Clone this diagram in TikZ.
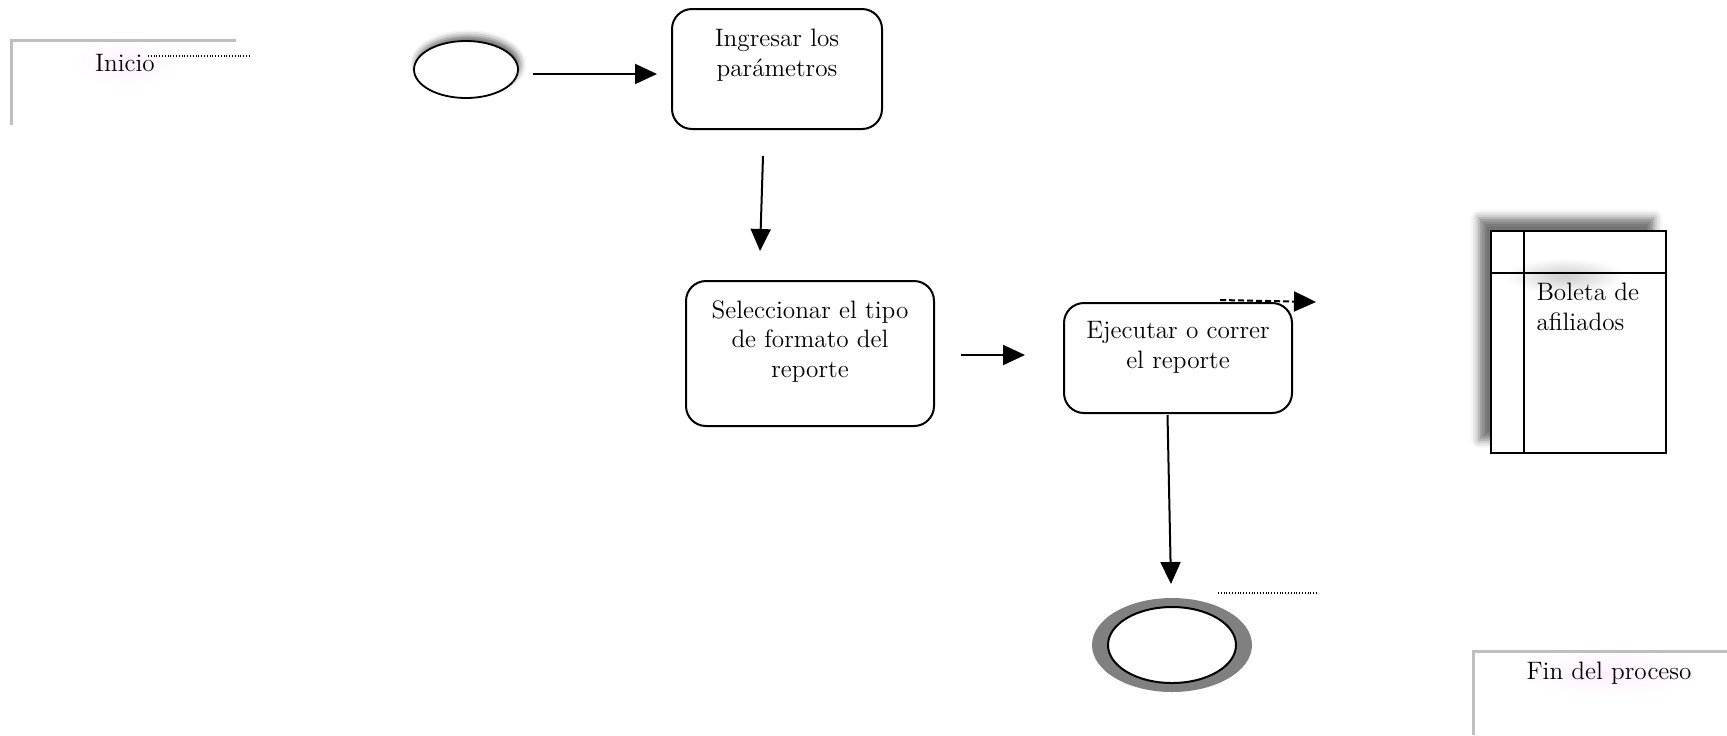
\documentclass[tikz,border=0pt]{standalone}
\usetikzlibrary{arrows.meta,shapes.geometric,shadows.blur,calc}
\begin{document}
\begin{tikzpicture}[x=0.5pt,y=-0.5pt,
  txt/.style={font=\fontsize{12.6}{14.8}\selectfont, inner sep=0pt},
  proc/.style={draw, line width=1pt, rounded corners=10pt, fill=white, inner sep=0pt},
  flow/.style={line width=1pt, -{Triangle[length=11pt,width=10pt]}},
  frameline/.style={draw=black!25, line width=1.5pt},
  fineDots/.style={line width=0.6pt, dash pattern=on 0.5pt off 0.9pt},
  glow/.style={inner color=magenta!6, outer color=white}]
\useasboundingbox (0,0) rectangle (1727,735);

% start header
\shade[glow] (125,63) ellipse [x radius=26pt, y radius=12pt];
\draw[frameline] (11,125) -- (11,40) -- (236,40);
\node[txt] (lblinicio) at (125,63) {Inicio};
\coordinate (dotA) at (148,56);
\coordinate (dotB) at (249,56);
\draw[fineDots] (dotA) -- (dotB);

% start terminal
\node[ellipse, draw, line width=0.9pt, fill=white, minimum width=52pt, minimum height=28.5pt,
  blur shadow={shadow xshift=1pt, shadow yshift=2.5pt, shadow blur radius=3pt, shadow opacity=60}]
  (inicio) at (466,69.5) {};

% process steps
\node[proc, minimum width=105pt, minimum height=60pt] (ingresar) at (777,69) {};
\node[txt, anchor=north, align=center] at ($(ingresar.north)+(0,21)$) {Ingresar los\\parámetros};

\node[proc, minimum width=124pt, minimum height=72.5pt] (seleccionar) at (810,353.5) {};
\node[txt, anchor=north, align=center] at ($(seleccionar.north)+(0,20)$) {Seleccionar el tipo\\de formato del\\reporte};

\node[proc, minimum width=114pt, minimum height=55pt] (ejecutar) at (1178,358) {};
\node[txt, anchor=north, align=center] at ($(ejecutar.north)+(0,19)$) {Ejecutar o correr\\el reporte};

% end terminal
\node[ellipse, fill=black!50, minimum width=80pt, minimum height=47pt] (finout) at (1172,645) {};
\node[ellipse, draw, line width=1pt, fill=white, minimum width=64pt, minimum height=38pt] (fin) at (finout.center) {};
\coordinate (dotC) at (1218,593);
\coordinate (dotD) at (1317,593);
\draw[fineDots] (dotC) -- (dotD);

% document
\node[draw, line width=0.9pt, fill=white, minimum width=87.5pt, minimum height=111pt, inner sep=0pt,
  blur shadow={shadow xshift=-6pt, shadow yshift=6.5pt, shadow blur radius=4pt, shadow opacity=55}]
  (boleta) at (1578.5,342) {};
\shade[inner color=black!20, outer color=white] (1565,276) ellipse [x radius=30pt, y radius=9pt];
\draw[line width=0.9pt] ($(boleta.north west)+(34,0)$) -- ($(boleta.south west)+(34,0)$);
\draw[line width=0.9pt] ($(boleta.north west)+(0,43)$) -- ($(boleta.north east)+(0,43)$);
\node[txt, anchor=north west, align=left] at ($(boleta.north west)+(46,53)$) {Boleta de\\afiliados};

% end header
\shade[glow] (1609,673) ellipse [x radius=45pt, y radius=12pt];
\draw[frameline] (1473,735) -- (1473,651) -- (1727,651);
\node[txt] (lblfin) at (1609,673) {Fin del proceso};

% connectors
\coordinate (a1s) at (533,74);   \coordinate (a1e) at (657,74);
\coordinate (a2s) at (763,156);  \coordinate (a2e) at (760,251);
\coordinate (a3s) at (961,355);  \coordinate (a3e) at (1025,355);
\coordinate (a4s) at (1167.5,415); \coordinate (a4e) at (1171,584);
\coordinate (a5s) at (1220,300); \coordinate (a5e) at (1316,302);
\draw[flow] (a1s) -- (a1e);
\draw[flow] (a2s) -- (a2e);
\draw[flow] (a3s) -- (a3e);
\draw[flow] (a4s) -- (a4e);
\draw[flow, dash pattern=on 3pt off 1.5pt] (a5s) -- (a5e);
\end{tikzpicture}
\end{document}
